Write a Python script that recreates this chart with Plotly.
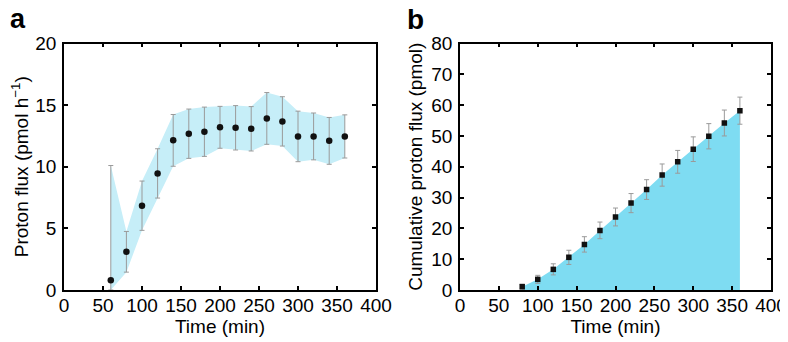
import plotly.graph_objects as go

# ---- data: panel a (proton flux) ----
time_a = [60, 80, 100, 120, 140, 160, 180, 200, 220, 240, 260, 280, 300, 320, 340, 360]
flux_a = [0.8, 3.1, 6.84, 9.46, 12.14, 12.68, 12.84, 13.2, 13.16, 13.08, 13.92, 13.68, 12.46, 12.46, 12.1, 12.46]
err_a = [9.3, 1.65, 2.0, 2.0, 2.1, 2.0, 2.0, 1.7, 1.8, 1.8, 2.1, 2.0, 2.05, 1.9, 1.9, 1.75]

# ---- data: panel b (cumulative proton flux) ----
time_b = [80, 100, 120, 140, 160, 180, 200, 220, 240, 260, 280, 300, 320, 340, 360]
cum_b = [1.08, 3.46, 6.7, 10.6, 14.8, 19.35, 23.7, 28.2, 32.6, 37.3, 41.6, 45.7, 49.9, 54.2, 58.2]
err_b = [0.8, 1.3, 1.8, 2.3, 2.5, 2.7, 2.9, 3.1, 3.2, 3.6, 3.7, 4.0, 4.1, 4.2, 4.4]

xticks = [0, 50, 100, 150, 200, 250, 300, 350, 400]
yticks_a = [0, 5, 10, 15, 20]
yticks_b = [0, 10, 20, 30, 40, 50, 60, 70, 80]

FONT = "Liberation Sans, Arial, Helvetica, sans-serif"
FS = 19
BAND = "#c6eef8"
FILL = "#7edcf2"
ERR = "#9a9a9a"

upper_a = [m + e for m, e in zip(flux_a, err_a)]
lower_a = [max(m - e, 0) for m, e in zip(flux_a, err_a)]

fig = go.Figure()

# panel a band
fig.add_trace(go.Scatter(x=time_a, y=lower_a, mode="lines", line=dict(width=0),
                         showlegend=False, hoverinfo="skip", xaxis="x", yaxis="y"))
fig.add_trace(go.Scatter(x=time_a, y=upper_a, mode="lines", line=dict(width=0),
                         fill="tonexty", fillcolor=BAND, showlegend=False,
                         hoverinfo="skip", xaxis="x", yaxis="y"))
# panel a points + error bars
fig.add_trace(go.Scatter(
    x=time_a, y=flux_a, mode="markers",
    marker=dict(symbol="circle", size=6.5, color="#111111"),
    error_y=dict(type="data", array=err_a, arrayminus=[min(e, m) for m, e in zip(flux_a, err_a)],
                 color=ERR, thickness=1, width=2.5),
    showlegend=False, xaxis="x", yaxis="y"))

# panel b fill
fig.add_trace(go.Scatter(x=time_b, y=cum_b, mode="lines", line=dict(width=0),
                         fill="tozeroy", fillcolor=FILL, showlegend=False,
                         hoverinfo="skip", xaxis="x2", yaxis="y2"))
fig.add_trace(go.Scatter(
    x=time_b, y=cum_b, mode="markers",
    marker=dict(symbol="square", size=5.5, color="#111111"),
    error_y=dict(type="data", array=err_b, color=ERR, thickness=1, width=2.5),
    showlegend=False, xaxis="x2", yaxis="y2"))

# page body has an 8px margin; figure drawn at (8, 8)
OFF = 8
W, H = 780, 334
def fx(px):
    return (px - OFF) / W
def fy(py):
    return 1 - (py - OFF) / H

axis_common = dict(showline=True, linecolor="black", linewidth=1.5, mirror="ticks",
                   ticks="inside", ticklen=4, tickwidth=1.5, tickcolor="black",
                   showgrid=False, zeroline=False, automargin=False,
                   tickfont=dict(family=FONT, size=FS, color="black"))

fig.update_layout(
    width=W, height=H,
    margin=dict(l=0, r=0, t=0, b=0),
    paper_bgcolor="white", plot_bgcolor="white",
    font=dict(family=FONT, color="black", size=FS),
    xaxis=dict(domain=[fx(64), fx(376)], range=[0, 400], tickvals=xticks, anchor="y",
               ticklabelstandoff=-3,
               title=dict(text="Time (min)", font=dict(family=FONT, size=FS), standoff=3),
               **axis_common),
    yaxis=dict(domain=[fy(290), fy(43.5)], range=[0, 20], tickvals=yticks_a, anchor="x",
               ticklabelstandoff=2,
               title=dict(text="Proton flux (pmol h<sup>−1</sup>)", font=dict(family=FONT, size=FS), standoff=4),
               **axis_common),
    xaxis2=dict(domain=[fx(460), fx(771)], range=[0, 400], tickvals=xticks, anchor="y2",
                ticklabelstandoff=-3,
                title=dict(text="Time (min)", font=dict(family=FONT, size=FS), standoff=3),
                **axis_common),
    yaxis2=dict(domain=[fy(290), fy(43.5)], range=[0, 80], tickvals=yticks_b, anchor="x2",
                ticklabelstandoff=2,
                title=dict(text="Cumulative proton flux (pmol)", font=dict(family=FONT, size=FS), standoff=4),
                **axis_common),
    annotations=[
        dict(text="<b>a</b>", x=0, y=fy(2), xref="paper", yref="paper",
             xanchor="left", yanchor="top", showarrow=False,
             font=dict(family=FONT, size=27, color="black")),
        dict(text="<b>b</b>", x=fx(405), y=fy(2), xref="paper", yref="paper",
             xanchor="left", yanchor="top", showarrow=False,
             font=dict(family=FONT, size=28, color="black")),
    ],
)

fig.write_html("out.html")
